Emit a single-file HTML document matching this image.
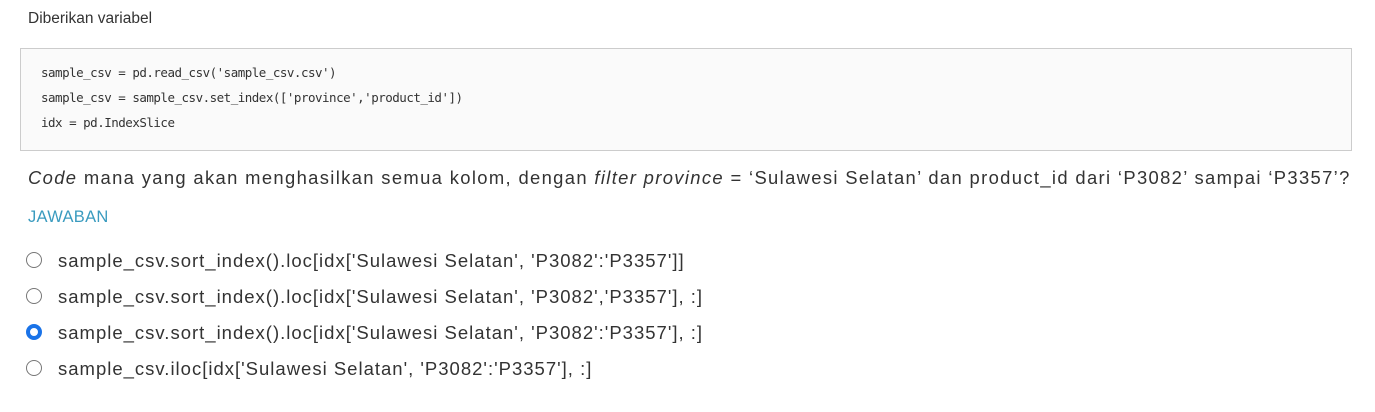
<!DOCTYPE html>
<html><head><style>
body{margin:0;width:1375px;height:412px;background:#fff;font-family:"Liberation Sans",sans-serif;color:#333;position:relative;overflow:hidden}
.a{position:absolute;white-space:nowrap}
.box{position:absolute;left:20px;top:48px;width:1330px;height:101px;border:1px solid #ccc;background:#fafafa}
.code{font-family:"DejaVu Sans Mono","Liberation Mono",monospace;font-size:12.5px;letter-spacing:-0.5px;color:#333;left:41px}
.opt{font-size:18.5px;letter-spacing:1px;left:58px;color:#333}
.r{position:absolute;left:26px;width:16px;height:16px;border:1px solid #777;border-radius:50%;box-sizing:border-box;background:#fff}
</style></head><body>
<div class="a" style="left:28px;top:10px;font-size:15.5px">Diberikan variabel</div>
<div class="box"></div>
<div class="a code" style="top:65px">sample_csv = pd.read_csv('sample_csv.csv')</div>
<div class="a code" style="top:90px">sample_csv = sample_csv.set_index(['province','product_id'])</div>
<div class="a code" style="top:115px">idx = pd.IndexSlice</div>
<div class="a" style="left:28px;top:167px;font-size:18.4px;letter-spacing:1.35px"><i>Code</i> mana yang akan menghasilkan semua kolom, dengan <i>filter province</i> = ‘Sulawesi Selatan’ dan product_id dari ‘P3082’ sampai ‘P3357’?</div>
<div class="a" style="left:28px;top:208px;font-size:16.5px;color:#3a9bbf;letter-spacing:0.3px">JAWABAN</div>
<div class="r" style="top:252px"></div>
<div class="a opt" style="top:250px">sample_csv.sort_index().loc[idx['Sulawesi Selatan', 'P3082':'P3357']]</div>
<div class="r" style="top:288px"></div>
<div class="a opt" style="top:286px">sample_csv.sort_index().loc[idx['Sulawesi Selatan', 'P3082','P3357'], :]</div>
<div class="r" style="top:324px;border:4px solid #1a73e8;"></div>
<div class="a opt" style="top:322px">sample_csv.sort_index().loc[idx['Sulawesi Selatan', 'P3082':'P3357'], :]</div>
<div class="r" style="top:360px"></div>
<div class="a opt" style="top:358px">sample_csv.iloc[idx['Sulawesi Selatan', 'P3082':'P3357'], :]</div>
</body></html>
